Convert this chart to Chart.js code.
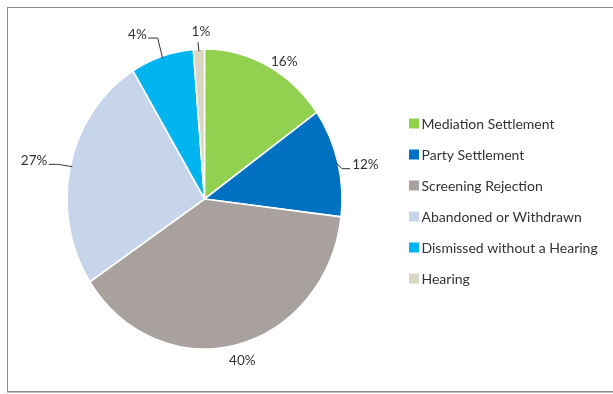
<!DOCTYPE html>
<html>
<head>
<meta charset="utf-8">
<script src="https://cdn.jsdelivr.net/npm/chart.js@4.4.1/dist/chart.umd.min.js"></script>
<style>
  html, body { margin: 0; padding: 0; background: #fff; overflow: hidden; }
  #wrap { position: relative; width: 613px; height: 394px; overflow: hidden; }
  #frame {
    position: absolute; left: 7px; top: 7px; width: 620px; height: 383px;
    border: 1px solid #8a8a8a; border-right: none;
    box-shadow: 0 1px 0 #c4c4c4;
  }
  canvas { position: absolute; left: 0; top: 0; }
</style>
</head>
<body>
<div id="wrap">
  <div id="frame"></div>
  <canvas id="chart" width="613" height="394"></canvas>
</div>
<script>
/* data */
const categories = [
  'Mediation Settlement',
  'Party Settlement',
  'Screening Rejection',
  'Abandoned or Withdrawn',
  'Dismissed without a Hearing',
  'Hearing',
];
const shares = [15.2, 11.7, 38.8, 25.6, 7.4, 1.3];
const shareLabels = ['16%', '12%', '40%', '27%', '4%', '1%'];
const colors = ['#92D050', '#0070C0', '#A8A19E', '#C6D5EA', '#00B4F0', '#DAD6C4'];

const FONT = 'Lato, "Open Sans", sans-serif';
const TEXT = '#333333';
const STRETCH_Y = 150 / 137.5;   // the reference pie is a little taller than wide

/* label placement: angle shift (deg, clockwise), distance from centre, leader style */
const placement = [
  { shift: 5,  dist: 149, leader: null },
  { shift: 3,  dist: 164, leader: 'right' },
  { shift: -1, dist: 153, leader: null },
  { shift: -1, dist: 174, leader: 'left' },
  { shift: -6, dist: 165, leader: 'left' },
  { shift: 1,  dist: 153, leader: 'up' },
];

const stretchPie = {
  id: 'stretchPie',
  beforeDatasetsDraw(chart) {
    const arc = chart.getDatasetMeta(0).data[0];
    const ctx = chart.ctx;
    ctx.save();
    ctx.translate(arc.x, arc.y);
    ctx.scale(1, STRETCH_Y);
    ctx.translate(-arc.x, -arc.y);
  },
  afterDatasetsDraw(chart) {
    chart.ctx.restore();
  },
};

const sliceLabels = {
  id: 'sliceLabels',
  afterDraw(chart) {
    const ctx = chart.ctx;
    ctx.save();
    ctx.font = '13.5px ' + FONT;
    ctx.fillStyle = TEXT;
    ctx.strokeStyle = '#333';
    ctx.lineWidth = 1;
    ctx.textAlign = 'center';
    ctx.textBaseline = 'middle';
    chart.getDatasetMeta(0).data.forEach(function (arc, i) {
      const p = placement[i];
      const mid = (arc.startAngle + arc.endAngle) / 2;
      const a = mid + p.shift * Math.PI / 180;
      const x = arc.x + Math.cos(a) * p.dist;
      const y = arc.y + Math.sin(a) * p.dist * STRETCH_Y;
      const ex = arc.x + Math.cos(mid) * (arc.outerRadius - 2);
      const ey = arc.y + Math.sin(mid) * (arc.outerRadius - 2) * STRETCH_Y;
      const w = ctx.measureText(shareLabels[i]).width;
      ctx.fillText(shareLabels[i], x, y);
      if (!p.leader) return;
      ctx.beginPath();
      if (p.leader === 'right') {
        const l = x - w / 2;
        ctx.moveTo(l - 2, y + 4.5);
        ctx.lineTo(l - 10, y + 4.5);
        ctx.lineTo(ex, ey);
      } else if (p.leader === 'left') {
        const r = x + w / 2;
        ctx.moveTo(r + 1.5, y + 3.5);
        ctx.lineTo(r + 11, y + 3.5);
        ctx.lineTo(ex, ey);
      } else {
        ctx.moveTo(x - 3, y + 10);
        ctx.lineTo(ex, ey);
      }
      ctx.stroke();
    });
    ctx.restore();
  },
};

const sideLegend = {
  id: 'sideLegend',
  afterDraw(chart) {
    const ctx = chart.ctx;
    ctx.save();
    ctx.font = '14px ' + FONT;
    ctx.fillStyle = TEXT;
    ctx.textBaseline = 'middle';
    chart.data.labels.forEach(function (label, i) {
      const cy = 123.5 + i * 31;
      ctx.fillStyle = chart.data.datasets[0].backgroundColor[i];
      ctx.fillRect(409, cy - 5, 10, 10);
      ctx.fillStyle = TEXT;
      ctx.fillText(label, 421.5, cy + 0.5);
    });
    ctx.restore();
  },
};

new Chart(document.getElementById('chart'), {
  type: 'pie',
  data: {
    labels: categories,
    datasets: [{
      data: shares,
      backgroundColor: colors,
      borderColor: '#ffffff',
      borderWidth: 1.5,
    }],
  },
  options: {
    responsive: false,
    animation: false,
    radius: 137.5,
    layout: { padding: { left: 0, right: 204, top: 4, bottom: 0 } },
    events: [],
    plugins: {
      legend: { display: false },
      tooltip: { enabled: false },
    },
  },
  plugins: [stretchPie, sliceLabels, sideLegend],
});
</script>
</body>
</html>
